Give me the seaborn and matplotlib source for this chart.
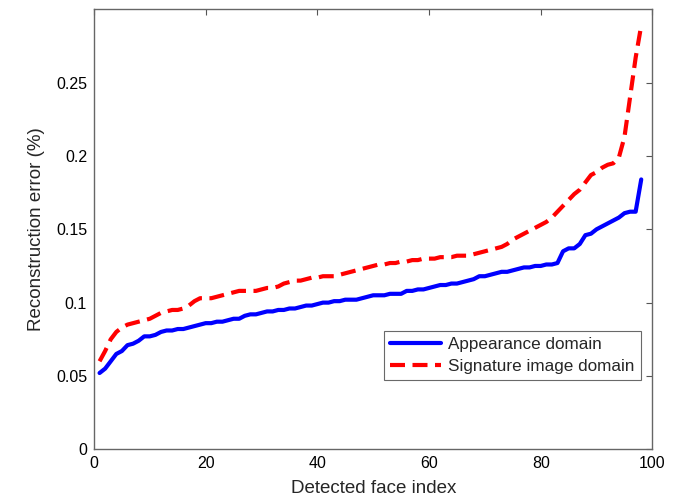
import numpy as np
import pandas as pd
import matplotlib
matplotlib.use("Agg")
import matplotlib.pyplot as plt
import seaborn as sns

face_index = list(range(1, 99))
appearance = [
    0.052, 0.055, 0.060, 0.065, 0.067, 0.071, 0.072, 0.074, 0.077, 0.077,
    0.078, 0.080, 0.081, 0.081, 0.082, 0.082, 0.083, 0.084, 0.085, 0.086,
    0.086, 0.087, 0.087, 0.088, 0.089, 0.089, 0.091, 0.092, 0.092, 0.093,
    0.094, 0.094, 0.095, 0.095, 0.096, 0.096, 0.097, 0.098, 0.098, 0.099,
    0.100, 0.100, 0.101, 0.101, 0.102, 0.102, 0.102, 0.103, 0.104, 0.105,
    0.105, 0.105, 0.106, 0.106, 0.106, 0.108, 0.108, 0.109, 0.109, 0.110,
    0.111, 0.112, 0.112, 0.113, 0.113, 0.114, 0.115, 0.116, 0.118, 0.118,
    0.119, 0.120, 0.121, 0.121, 0.122, 0.123, 0.124, 0.124, 0.125, 0.125,
    0.126, 0.126, 0.127, 0.135, 0.137, 0.137, 0.140, 0.146, 0.147, 0.150,
    0.152, 0.154, 0.156, 0.158, 0.161, 0.162, 0.162, 0.184,
]
signature = [
    0.060, 0.067, 0.075, 0.080, 0.083, 0.085, 0.086, 0.087, 0.088, 0.089,
    0.091, 0.093, 0.094, 0.095, 0.095, 0.096, 0.098, 0.101, 0.103, 0.103,
    0.103, 0.104, 0.105, 0.106, 0.107, 0.108, 0.108, 0.108, 0.108, 0.109,
    0.110, 0.110, 0.111, 0.113, 0.114, 0.115, 0.115, 0.116, 0.117, 0.117,
    0.118, 0.118, 0.118, 0.119, 0.120, 0.121, 0.122, 0.123, 0.124, 0.125,
    0.126, 0.126, 0.127, 0.127, 0.128, 0.128, 0.129, 0.129, 0.130, 0.130,
    0.130, 0.131, 0.131, 0.131, 0.132, 0.132, 0.132, 0.133, 0.134, 0.135,
    0.136, 0.137, 0.138, 0.140, 0.143, 0.145, 0.147, 0.149, 0.151, 0.153,
    0.155, 0.158, 0.162, 0.166, 0.170, 0.174, 0.177, 0.182, 0.187, 0.189,
    0.192, 0.194, 0.195, 0.199, 0.213, 0.240, 0.267, 0.289,
]
series_names = ["Appearance domain", "Signature image domain"]
x_ticks = [0, 20, 40, 60, 80, 100]
y_ticks = [0, 0.05, 0.1, 0.15, 0.2, 0.25]
y_tick_labels = ["0", "0.05", "0.1", "0.15", "0.2", "0.25"]

sns.set_style("white")
plt.rcParams["font.family"] = ["Liberation Sans", "DejaVu Sans"]

df = pd.DataFrame({
    "idx": face_index * 2,
    "err": appearance + signature,
    "series": [series_names[0]] * len(face_index) + [series_names[1]] * len(face_index),
})

fig = plt.figure(figsize=(6.81, 5.03), dpi=100)
ax = fig.add_axes([0.138, 0.1068, 0.82, 0.8747])

sns.lineplot(data=df, x="idx", y="err", hue="series", style="series",
             palette={series_names[0]: "#0000ff", series_names[1]: "#ff0000"},
             dashes={series_names[0]: "", series_names[1]: (3.6, 1.8)},
             linewidth=3, ax=ax, legend=True)

ax.set_xlim(0, 100)
ax.set_ylim(0, 0.3)
ax.set_xticks(x_ticks)
ax.set_xticklabels([str(t) for t in x_ticks])
ax.set_yticks(y_ticks)
ax.set_yticklabels(y_tick_labels)
ax.tick_params(axis="both", which="both", direction="in", length=4, width=0.8,
               color="#555555", labelsize=11.5, labelcolor="black",
               top=True, right=True, pad=5)
for s in ax.spines.values():
    s.set_visible(True)
    s.set_color("#666666")
    s.set_linewidth(1.0)

ax.set_xlabel("Detected face index", fontsize=13.5, labelpad=6)
ax.set_ylabel("Reconstruction error (%)", fontsize=13.5, labelpad=8)

leg = ax.legend(loc="lower right", bbox_to_anchor=(0.979, 0.157), fontsize=12.3,
                frameon=True, fancybox=False, edgecolor="#444444",
                handlelength=3.0, borderpad=0.35, labelspacing=0.42,
                handletextpad=0.4, borderaxespad=0.0)
leg.get_frame().set_linewidth(0.8)

fig.savefig("out.png", dpi=100)
